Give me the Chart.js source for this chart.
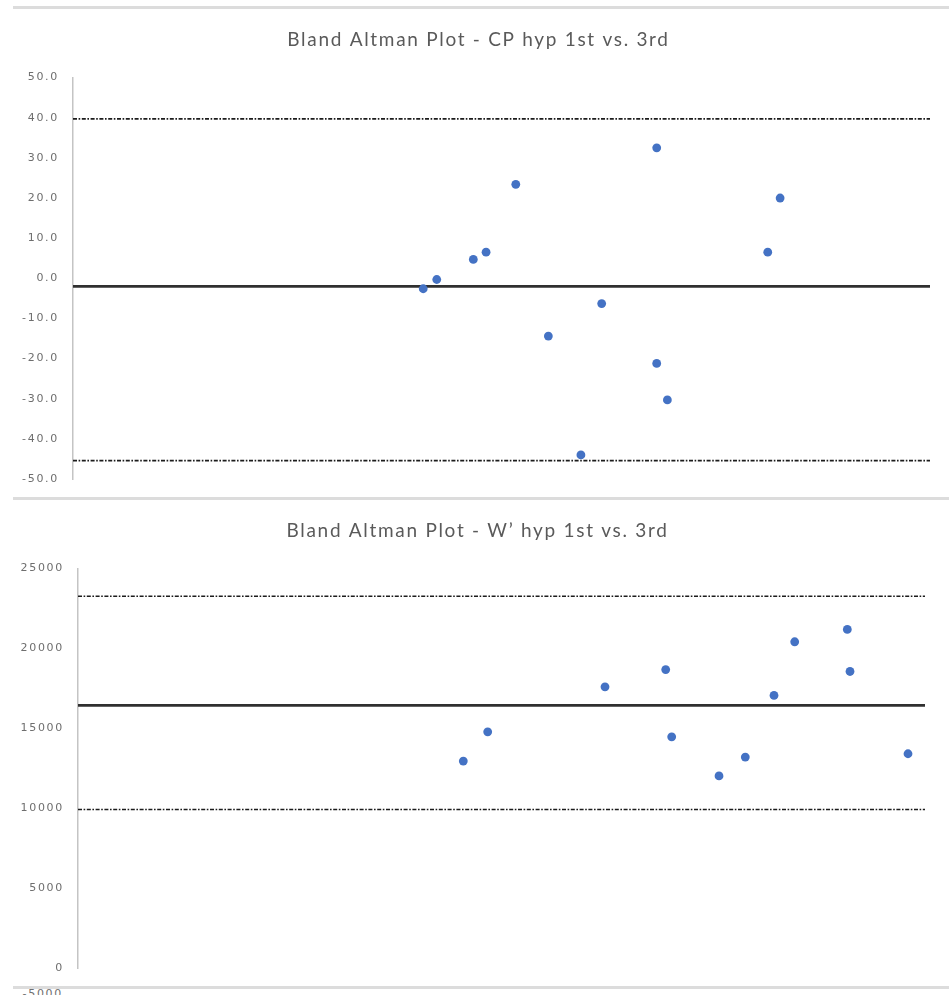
<!DOCTYPE html>
<html>
<head>
<meta charset="utf-8">
<title>Bland Altman Plots</title>
<script src="https://cdn.jsdelivr.net/npm/chart.js@4.4.1/dist/chart.umd.min.js"></script>
<style>
  html, body { margin: 0; padding: 0; background: #fff; width: 949px; height: 1005px; overflow: hidden; }
  body { position: relative; }
  .rule { position: absolute; left: 13px; right: 0; height: 3px; background: #dcdcdc; }
  .panel { position: absolute; left: 0; width: 949px; height: 485px; }
  #cut { position: absolute; left: 0; width: 64px; top: 989px; height: 6px; overflow: hidden; }
  #cut span { position: absolute; right: 1px; top: -2px; font: 11px "DejaVu Sans", sans-serif; letter-spacing: 1.7px; color: #707070; }
</style>
</head>
<body>
<div class="rule" style="top:6px"></div>
<div class="panel" style="top:10px"><canvas id="cpChart"></canvas></div>
<div class="rule" style="top:497px"></div>
<div class="panel" style="top:501px"><canvas id="wpChart"></canvas></div>
<div class="rule" style="top:986px"></div>
<div id="cut"><span>-5000</span></div>

<script>
// ---- CP (W): mean of the two trials vs. difference ----
const cpMean = [183.9, 191.0, 210.2, 216.9, 232.5, 249.6, 266.7, 277.6, 306.5, 306.5, 312.1, 364.8, 371.3];
const cpDiff = [-2.6, -0.3, 4.7, 6.5, 23.4, -14.4, -44.0, -6.3, 32.5, -21.2, -30.3, 6.5, 20.0];
const cpBias = -2.0;
const cpUpperLoA = 39.7;
const cpLowerLoA = -45.4;
const cpYTicks = [-50, -40, -30, -20, -10, 0, 10, 20, 30, 40, 50];
const cpXRange = [0, 450];

// ---- W' (J): mean of the two trials vs. difference ----
const wpMean = [13647, 14511, 18666, 20816, 21028, 22704, 23635, 24652, 25385, 27248, 27344, 29398];
const wpDiff = [12950, 14780, 17600, 18680, 14470, 12020, 13200, 17060, 20420, 21190, 18560, 13410];
const wpBias = 16440;
const wpUpperLoA = 23270;
const wpLowerLoA = 9920;
const wpYTicks = [0, 5000, 10000, 15000, 20000, 25000];
const wpXRange = [0, 30000];

const TITLE_COLOR = '#5a5a5a';
const TICK_COLOR = '#6e6e6e';
const POINT_COLOR = '#4472C4';
const LINE_COLOR = '#1c1c1c';
const DASH = [4, 1.6, 1.6, 1.6];

// Slightly open letter spacing for all chart text
const spacedText = {
  id: 'spacedText',
  beforeDraw(chart) {
    if ('letterSpacing' in chart.ctx) chart.ctx.letterSpacing = '1.7px';
  }
};

// Horizontal bias / limits-of-agreement lines across the plot area
const agreementLines = {
  id: 'agreementLines',
  beforeDatasetsDraw(chart, args, opts) {
    const { ctx, chartArea: { left, right }, scales: { y } } = chart;
    (opts.lines || []).forEach(l => {
      const py = y.getPixelForValue(l.value);
      ctx.save();
      ctx.strokeStyle = l.color;
      ctx.lineWidth = l.width;
      ctx.setLineDash(l.dash || []);
      ctx.beginPath();
      ctx.moveTo(left, py);
      ctx.lineTo(right, py);
      ctx.stroke();
      ctx.restore();
    });
  }
};

function blandAltman(canvasId, o) {
  const points = o.x.map((v, i) => ({ x: v, y: o.y[i] }));
  return new Chart(document.getElementById(canvasId), {
    type: 'scatter',
    data: {
      datasets: [{
        data: points,
        backgroundColor: POINT_COLOR,
        borderWidth: 0,
        pointRadius: 4.4,
        pointHoverRadius: 4.4
      }]
    },
    plugins: [spacedText, agreementLines],
    options: {
      responsive: true,
      maintainAspectRatio: false,
      animation: false,
      events: [],
      layout: { padding: { left: o.padLeft, right: 0, top: 0, bottom: o.padBottom } },
      plugins: {
        legend: { display: false },
        tooltip: { enabled: false },
        title: {
          display: true,
          text: o.title,
          color: TITLE_COLOR,
          font: { family: 'Lato', size: 19, weight: 'normal', lineHeight: 1.2 },
          padding: { top: o.titleTop, bottom: o.titleBottom }
        },
        agreementLines: {
          lines: [
            { value: o.upper, color: LINE_COLOR, width: 1.7, dash: DASH },
            { value: o.bias, color: '#303030', width: 2.6 },
            { value: o.lower, color: LINE_COLOR, width: 1.7, dash: DASH }
          ]
        }
      },
      scales: {
        x: {
          type: 'linear',
          display: false,
          min: o.xRange[0],
          max: o.xRange[1]
        },
        y: {
          type: 'linear',
          position: 'left',
          min: o.yTicks[0],
          max: o.yTicks[o.yTicks.length - 1],
          afterBuildTicks(scale) {
            scale.ticks = o.yTicks.map(v => ({ value: v }));
          },
          afterFit(scale) {
            scale.width = o.axisWidth;
            // plot height is set by the layout padding alone
            scale.paddingTop = 0;
            scale.paddingBottom = 0;
          },
          grid: { display: false, drawTicks: false },
          border: { display: true, color: '#c4c4c4', width: 1.5 },
          ticks: {
            padding: 14,
            color: TICK_COLOR,
            font: { family: 'DejaVu Sans', size: 11 },
            callback: o.format
          }
        },
        // empty right-hand margin of the plot
        yMargin: {
          type: 'linear',
          position: 'right',
          afterFit(scale) {
            scale.width = o.rightGap;
            scale.paddingTop = 0;
            scale.paddingBottom = 0;
          },
          grid: { display: false, drawTicks: false },
          border: { display: false },
          ticks: { display: false }
        }
      }
    }
  });
}

blandAltman('cpChart', {
  title: 'Bland Altman Plot - CP hyp 1st vs. 3rd',
  x: cpMean, y: cpDiff,
  bias: cpBias, upper: cpUpperLoA, lower: cpLowerLoA,
  yTicks: cpYTicks, xRange: cpXRange,
  format: v => Number(v).toFixed(1),
  padLeft: 8, axisWidth: 65, rightGap: 19, padBottom: 16,
  titleTop: 18.2, titleBottom: 26.6
});

blandAltman('wpChart', {
  title: 'Bland Altman Plot - W\u2019 hyp 1st vs. 3rd',
  x: wpMean, y: wpDiff,
  bias: wpBias, upper: wpUpperLoA, lower: wpLowerLoA,
  yTicks: wpYTicks, xRange: wpXRange,
  format: v => String(v),
  padLeft: 6, axisWidth: 72, rightGap: 24, padBottom: 18,
  titleTop: 18.2, titleBottom: 26.6
});
</script>
</body>
</html>
